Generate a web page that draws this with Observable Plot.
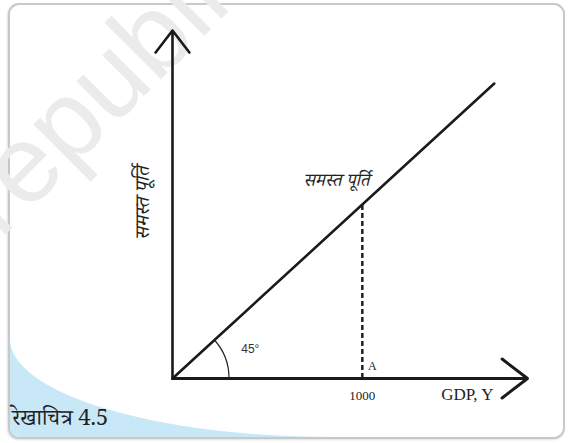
<!DOCTYPE html>
<html>
<head>
<meta charset="utf-8">
<script src="https://cdn.jsdelivr.net/npm/d3@7"></script>
<script src="https://cdn.jsdelivr.net/npm/@observablehq/plot@0.6"></script>
<style>
  html, body { margin: 0; padding: 0; background: #fff; }
  #wrap { position: relative; width: 571px; height: 443px; overflow: hidden; }
  #frame { position: absolute; left: 8px; top: 3px; width: 553px; height: 432px;
           border: 2px solid #c8c8c8; border-radius: 11px; overflow: hidden;
           box-shadow: -1px 1px 2px rgba(0,0,0,0.12); background: #fff; }
  #blue { position: absolute; left: 0; bottom: 0; width: 322px; height: 98px; background: #c8e8f7; }
  #blueCut { position: absolute; left: 0; top: 0; width: 100%; height: 100%; background: #fff;
             border-bottom-left-radius: 322px 98px; }
  #wm { position: absolute; left: 0; top: 0; }
  #chart { position: absolute; left: 0; top: 0; }
  #caption { position: absolute; left: 12px; top: 409px; font-size: 22px; color: #222; line-height: 26px;
             font-family: "Noto Serif Devanagari", "Noto Sans Devanagari", "Liberation Serif", serif; }
</style>
</head>
<body>
<div id="wrap">
  <div id="frame"><div id="blue"><div id="blueCut"></div></div></div>
  <svg id="wm" width="571" height="443"><text x="0" y="240" transform="rotate(-45 0 240)" font-size="110" fill="#ebebeb" font-family="Liberation Sans, Arial, sans-serif">republished</text></svg>
  <div id="chart"></div>
  <div id="caption">रेखाचित्र 4.5</div>
</div>
<script>
// Data
const xMax = 1870;          // x axis arrow end
const yMax = 2000;          // y axis arrow end
const supplyLine = [{x: 0, y: 0}, {x: 1695, y: 1695}];  // 45° aggregate supply line
const markA = 1000;         // point A / tick label
const tickLabels = ["1000"];
const xAxisLabel = "GDP, Y";
const yAxisLabel = "समस्त पूर्ति";
const lineLabel = "समस्त पूर्ति";
const angleLabel = "45°";
const pointLabel = "A";

const deva = "'Noto Serif Devanagari', 'Noto Sans Devanagari', 'Liberation Serif', serif";
const serif = "'Liberation Serif', 'DejaVu Serif', serif";

// Angle arc mark drawn through the scales
function angleArc(radius) {
  return (index, scales) => {
    const x0 = scales.x(0), y0 = scales.y(0);
    const p = supplyLine[1];
    const ang = Math.atan2(scales.y(0) - scales.y(p.y), scales.x(p.x) - scales.x(0));
    const path = d3.path();
    path.arc(x0, y0, radius, 0, -ang, true);
    return d3.create("svg:path")
      .attr("d", path.toString())
      .attr("fill", "none")
      .attr("stroke", "#222")
      .attr("stroke-width", 1.2)
      .node();
  };
}

const chart = Plot.plot({
  width: 571,
  height: 443,
  marginLeft: 172,
  marginRight: 44,
  marginTop: 30,
  marginBottom: 65,
  style: {background: "transparent", overflow: "visible"},
  x: {domain: [0, xMax], axis: null},
  y: {domain: [0, yMax], axis: null},
  marks: [
    Plot.ruleX([markA], {y1: 0, y2: markA, stroke: "#222", strokeWidth: 2.5, strokeDasharray: "5,3"}),
    Plot.line(supplyLine, {x: "x", y: "y", stroke: "#1a1a1a", strokeWidth: 2.6}),
    Plot.arrow([{x1: 0, y1: 0, x2: xMax, y2: 0}], {x1: "x1", y1: "y1", x2: "x2", y2: "y2", stroke: "#1a1a1a", strokeWidth: 3, headLength: 16, headAngle: 75}),
    Plot.arrow([{x1: 0, y1: 0, x2: 0, y2: yMax}], {x1: "x1", y1: "y1", x2: "x2", y2: "y2", stroke: "#1a1a1a", strokeWidth: 2.6, headLength: 16, headAngle: 75}),
    angleArc(57),
    Plot.text([angleLabel], {x: 410, y: 167, text: d => d, fontSize: 12, fill: "#333", fontFamily: "'Liberation Sans', Arial, sans-serif"}),
    Plot.text([pointLabel], {x: markA, y: 0, dx: 10, dy: -12, text: d => d, fontSize: 12, fill: "#222", fontFamily: serif}),
    Plot.text(tickLabels, {x: d => +d, y: 0, dy: 17, text: d => d, fontSize: 13, fill: "#222", fontFamily: serif}),
    Plot.text([xAxisLabel], {x: 1553, y: 0, dy: 16, text: d => d, fontSize: 17, fill: "#222", fontFamily: serif}),
    Plot.text([yAxisLabel], {x: -158, y: 1006, rotate: -90, text: d => d, fontSize: 20, fill: "#222", fontStyle: "italic", fontFamily: deva}),
    Plot.text([lineLabel], {x: 863, y: 1140, text: d => d, fontSize: 18, fill: "#222", fontStyle: "italic", fontFamily: deva})
  ]
});
document.getElementById("chart").appendChild(chart);
</script>
</body>
</html>
